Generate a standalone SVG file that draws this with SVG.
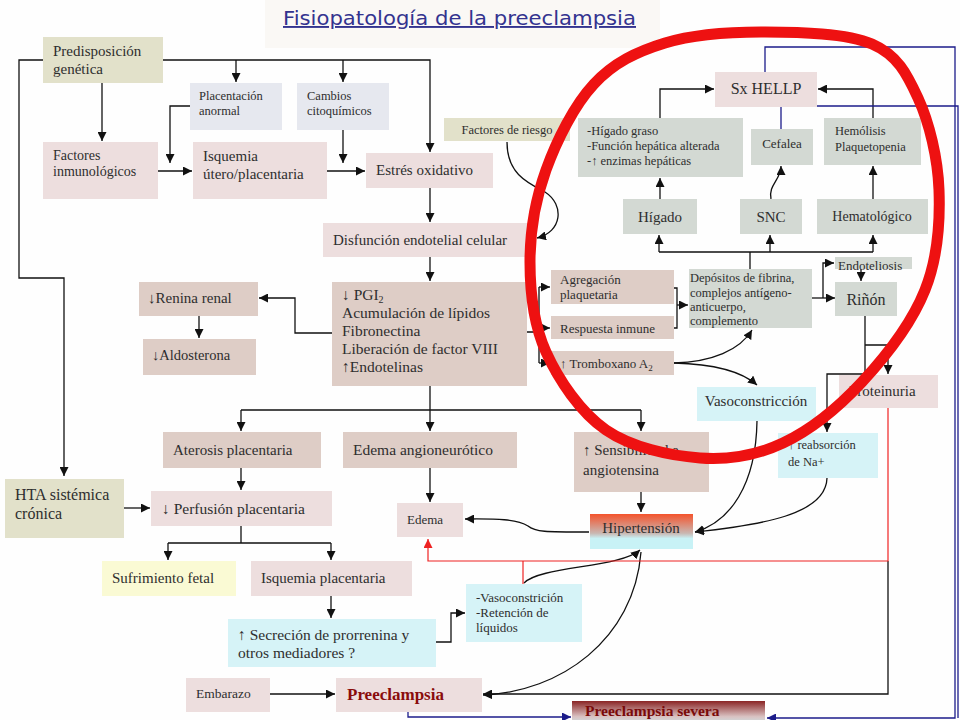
<svg xmlns="http://www.w3.org/2000/svg" width="960" height="720" viewBox="0 0 960 720">
<defs>
<style>
.t{font-family:"Liberation Serif","Times New Roman",serif;fill:#2e2e2e}
.pk{fill:#eddede}.tn{fill:#decdc6}.gg{fill:#d3d9d3}.ol{fill:#e2e1ca}.bl{fill:#e6e8ef}.cy{fill:#d6f3f7}.yl{fill:#fafad4}
.c{stroke:#111;stroke-width:1.3;fill:none}
.cr{stroke:#ee2222;stroke-width:1.2;fill:none}
.cb{stroke:#1c1c8a;stroke-width:1.3;fill:none}
.a{marker-end:url(#ah)}
</style>
<marker id="ah" viewBox="0 0 10 10" refX="10" refY="5" markerWidth="9" markerHeight="9" markerUnits="userSpaceOnUse" orient="auto"><path d="M0,0 L10,5 L0,10 z" fill="#111"/></marker>
<marker id="ahr" viewBox="0 0 10 10" refX="10" refY="5" markerWidth="9" markerHeight="9" markerUnits="userSpaceOnUse" orient="auto"><path d="M0,0 L10,5 L0,10 z" fill="#ee2222"/></marker>
<marker id="ahb" viewBox="0 0 10 10" refX="10" refY="5" markerWidth="9" markerHeight="9" markerUnits="userSpaceOnUse" orient="auto"><path d="M0,0 L10,5 L0,10 z" fill="#1c1c8a"/></marker>
<linearGradient id="ghip" x1="0" y1="0" x2="0" y2="1">
<stop offset="0" stop-color="#f4532c"/><stop offset="0.55" stop-color="#c9b7b2"/><stop offset="0.7" stop-color="#c8f2f6"/><stop offset="1" stop-color="#c8f2f6"/>
</linearGradient>
<linearGradient id="gsev" x1="0" y1="0" x2="0" y2="1">
<stop offset="0" stop-color="#8a2424"/><stop offset="0.6" stop-color="#d9c2c2"/><stop offset="1" stop-color="#c8f0f4"/>
</linearGradient>
</defs>
<rect width="960" height="720" fill="#fefefe"/>
<rect x="265" y="0" width="395" height="48" fill="#faf8f5"/>
<text x="283" y="25" font-family="'DejaVu Sans','Liberation Sans',sans-serif" font-size="19" fill="#33338f" textLength="353" lengthAdjust="spacingAndGlyphs" text-decoration="underline">Fisiopatología de la preeclampsia</text>

<g id="connectors">
<path class="c" d="M163,60 H430 V152" marker-end="url(#ah)"/>
<path class="c a" d="M236,60 V82"/>
<path class="c a" d="M343,60 V82"/>
<path class="c" d="M43,60 H19 V278 H64 V476" marker-end="url(#ah)"/>
<path class="c a" d="M102,83 V141"/>
<path class="c a" d="M158,171 H192"/>
<path class="c a" d="M190,106 H170 V163"/>
<path class="c a" d="M343,130 V163"/>
<path class="c a" d="M327,171 H365"/>
<path class="c a" d="M430,188 V222"/>
<path class="c a" d="M430,257 V281"/>
<path class="c a" d="M507,142 C507,172 525,182 545,192 C565,205 562,232 537,238"/>
<path class="c a" d="M332,333 H295 V298 H259"/>
<path class="c a" d="M199,316 V338"/>
<path class="c" d="M430,386 V410 M241,410 H641"/>
<path class="c a" d="M241,410 V431"/>
<path class="c a" d="M430,410 V431"/>
<path class="c a" d="M641,410 V431"/>
<path class="c" d="M527,332 H539 M539,287 V363"/>
<path class="c a" d="M539,287 H550"/>
<path class="c a" d="M539,328 H550"/>
<path class="c a" d="M539,363 H550"/>
<path class="c" d="M674,288 H677 V328 H674"/>
<path class="c a" d="M677,305 H688"/>
<path class="c a" d="M674,363 C712,362 740,350 752,330"/>
<path class="c a" d="M674,363 C712,364 740,370 757,385"/>
<path class="c" d="M750,269 V252 M659,252 H873"/>
<path class="c a" d="M659,252 V235"/>
<path class="c a" d="M770,252 V235"/>
<path class="c a" d="M873,252 V235"/>
<path class="c a" d="M660,118 V89 H714"/>
<path class="c a" d="M873,118 V89 H818"/>
<path class="c a" d="M660,199 V178"/>
<path class="c a" d="M771,199 C768,185 781,180 781,166"/>
<path class="c a" d="M873,199 V166"/>
<path class="c a" d="M812,298 H835"/>
<path class="c a" d="M823,298 V263 H834"/>
<path class="c a" d="M861,268 V281"/>
<path class="c" d="M865,316 V374 H827 V432" marker-end="url(#ah)"/>
<path class="c a" d="M865,345 H888 V374"/>
<path class="c a" d="M241,468 V490"/>
<path class="c a" d="M430,468 V502"/>
<path class="c a" d="M641,492 V512"/>
<path class="c a" d="M757,421 C756,485 730,522 695,532"/>
<path class="c a" d="M827,478 C826,515 760,525 695,532"/>
<path class="c a" d="M589,532 C545,532 535,532 528,526 C515,518 490,519 465,519"/>
<path class="c a" d="M124,508 H150"/>
<path class="c" d="M241,526 V543 M168,543 H331"/>
<path class="c a" d="M168,543 V560"/>
<path class="c a" d="M331,543 V560"/>
<path class="c a" d="M331,596 V618"/>
<path class="c a" d="M436,642 H451 V613 H465"/>
<path class="c a" d="M524,583 C540,566 620,568 640,550"/>
<path class="c a" d="M641,552 C634,640 560,692 483,695"/>
<path class="c a" d="M888,561 V694 H483"/>
<path class="c a" d="M270,694 H335"/>
<path class="cr" d="M888,408 V561 H428 V539" marker-end="url(#ahr)"/>
<path class="cr" d="M523,561 V584"/>
<path class="cb" d="M408,712 V717 H571" marker-end="url(#ahb)"/>
<path class="cb" d="M765,72 V47 H955 V718 H767" marker-end="url(#ahb)"/>
<path class="cb" d="M781,129 V106 H958 V718"/>
</g>

<g id="n-predisposicion"><rect class="ol" x="43" y="37" width="120" height="46"/><text class="t" font-size="15" x="53" y="56">Predisposición</text><text class="t" font-size="15" x="53" y="74">genética</text></g>
<g id="n-placentacion"><rect class="bl" x="190" y="83" width="92" height="47"/><text class="t" font-size="12.5" x="199" y="100">Placentación</text><text class="t" font-size="12.5" x="199" y="115">anormal</text></g>
<g id="n-cambios"><rect class="bl" x="297" y="83" width="92" height="47"/><text class="t" font-size="12.5" x="307" y="100">Cambios</text><text class="t" font-size="12.5" x="307" y="115">citoquímicos</text></g>
<g id="n-inmuno"><rect class="pk" x="43" y="142" width="115" height="57"/><text class="t" font-size="14" x="53" y="160">Factores</text><text class="t" font-size="14" x="53" y="176">inmunológicos</text></g>
<g id="n-isquemia-ut"><rect class="pk" x="193" y="142" width="134" height="57"/><text class="t" font-size="15" x="203" y="161">Isquemia</text><text class="t" font-size="15" x="203" y="179">útero/placentaria</text></g>
<g id="n-estres"><rect class="pk" x="366" y="153" width="127" height="35"/><text class="t" font-size="15" x="376" y="175">Estrés oxidativo</text></g>
<g id="n-riesgo"><rect class="ol" x="444" y="118" width="126" height="23"/><text class="t" font-size="12.5" x="507" y="134" text-anchor="middle">Factores de riesgo</text></g>
<g id="n-disfuncion"><rect class="pk" x="323" y="223" width="212" height="34"/><text class="t" font-size="15" x="333" y="245">Disfunción endotelial celular</text></g>
<g id="n-pgi2"><rect class="tn" x="332" y="282" width="195" height="104"/>
<text class="t" font-size="15.5" x="342" y="300">↓ PGI<tspan font-size="10" dy="3">2</tspan></text>
<text class="t" font-size="15.5" x="342" y="318">Acumulación de lípidos</text>
<text class="t" font-size="15.5" x="342" y="336">Fibronectina</text>
<text class="t" font-size="15.5" x="342" y="354">Liberación de factor VIII</text>
<text class="t" font-size="15.5" x="342" y="372">↑Endotelinas</text></g>
<g id="n-renina"><rect class="tn" x="139" y="282" width="119" height="34"/><text class="t" font-size="15" x="148" y="303">↓Renina renal</text></g>
<g id="n-aldosterona"><rect class="tn" x="143" y="339" width="113" height="36"/><text class="t" font-size="14.5" x="152" y="360">↓Aldosterona</text></g>
<g id="n-sxhellp"><rect class="pk" x="715" y="72" width="102" height="35"/><text class="t" font-size="16" x="766" y="94" text-anchor="middle">Sx HELLP</text></g>
<g id="n-higado-list"><rect class="gg" x="578" y="118" width="165" height="59"/><text class="t" font-size="12.5" x="587" y="135">-Hígado graso</text><text class="t" font-size="12.5" x="587" y="150">-Función hepática alterada</text><text class="t" font-size="12.5" x="587" y="165">-↑ enzimas hepáticas</text></g>
<g id="n-cefalea"><rect class="gg" x="751" y="129" width="62" height="36"/><text class="t" font-size="13" x="782" y="148" text-anchor="middle">Cefalea</text></g>
<g id="n-hemolisis"><rect class="gg" x="824" y="118" width="97" height="47"/><text class="t" font-size="12.5" x="835" y="135">Hemólisis</text><text class="t" font-size="12.5" x="835" y="151">Plaquetopenia</text></g>
<g id="n-higado"><rect class="gg" x="623" y="199" width="74" height="35"/><text class="t" font-size="15" x="660" y="222" text-anchor="middle">Hígado</text></g>
<g id="n-snc"><rect class="gg" x="740" y="199" width="62" height="35"/><text class="t" font-size="15" x="771" y="222" text-anchor="middle">SNC</text></g>
<g id="n-hemato"><rect class="gg" x="817" y="199" width="111" height="35"/><text class="t" font-size="14" x="872" y="221" text-anchor="middle">Hematológico</text></g>
<g id="n-agregacion"><rect class="tn" x="551" y="270" width="123" height="34"/><text class="t" font-size="13" x="560" y="284">Agregación</text><text class="t" font-size="13" x="560" y="299">plaquetaria</text></g>
<g id="n-respuesta"><rect class="tn" x="551" y="316" width="123" height="23"/><text class="t" font-size="13" x="560" y="333">Respuesta inmune</text></g>
<g id="n-tromboxano"><rect class="tn" x="551" y="351" width="123" height="24"/><text class="t" font-size="13" x="560" y="368">↑ Tromboxano A<tspan font-size="9" dy="3">2</tspan></text></g>
<g id="n-depositos"><rect class="gg" x="689" y="269" width="123" height="59"/><text class="t" font-size="12.5" x="690" y="282">Depósitos de fibrina,</text><text class="t" font-size="12.5" x="690" y="297">complejos antígeno-</text><text class="t" font-size="12.5" x="690" y="311">anticuerpo,</text><text class="t" font-size="12.5" x="690" y="325">complemento</text></g>
<g id="n-endoteliosis"><rect class="gg" x="835" y="257" width="77" height="12"/><text class="t" font-size="13" x="838" y="270">Endoteliosis</text></g>
<g id="n-rinon"><rect class="gg" x="835" y="282" width="62" height="34"/><text class="t" font-size="16" x="866" y="305" text-anchor="middle">Riñón</text></g>
<g id="n-proteinuria"><rect class="pk" x="839" y="375" width="99" height="33"/><text class="t" font-size="15" x="849" y="396">Proteinuria</text></g>
<g id="n-vasocons"><rect class="cy" x="697" y="387" width="119" height="34"/><text class="t" font-size="15" x="756" y="406" text-anchor="middle">Vasoconstricción</text></g>
<g id="n-reabsorcion"><rect class="cy" x="778" y="433" width="100" height="45"/><text class="t" font-size="12.5" x="788" y="449">↑ reabsorción</text><text class="t" font-size="12.5" x="788" y="466">de Na+</text></g>
<g id="n-aterosis"><rect class="tn" x="163" y="432" width="158" height="36"/><text class="t" font-size="15" x="173" y="455">Aterosis placentaria</text></g>
<g id="n-angioneurotico"><rect class="tn" x="343" y="432" width="174" height="36"/><text class="t" font-size="15.5" x="353" y="455">Edema angioneurótico</text></g>
<g id="n-sensibilidad"><rect class="tn" x="574" y="432" width="135" height="60"/><text class="t" font-size="15" x="583" y="455">↑ Sensibilidad a</text><text class="t" font-size="15" x="583" y="475">angiotensina</text></g>
<g id="n-hipertension"><rect fill="url(#ghip)" x="590" y="514" width="103" height="35"/><text class="t" font-size="15" x="641" y="533" text-anchor="middle">Hipertensión</text></g>
<g id="n-edema"><rect class="pk" x="397" y="503" width="66" height="34"/><text class="t" font-size="13" x="407" y="524">Edema</text></g>
<g id="n-hta"><rect class="ol" x="5" y="479" width="119" height="59"/><text class="t" font-size="16" x="15" y="500">HTA sistémica</text><text class="t" font-size="16" x="15" y="519">crónica</text></g>
<g id="n-perfusion"><rect class="pk" x="151" y="491" width="181" height="35"/><text class="t" font-size="15.5" x="162" y="514">↓ Perfusión placentaria</text></g>
<g id="n-sufrimiento"><rect class="yl" x="102" y="561" width="134" height="35"/><text class="t" font-size="15" x="112" y="583">Sufrimiento fetal</text></g>
<g id="n-isquemia-pl"><rect class="pk" x="251" y="561" width="161" height="35"/><text class="t" font-size="15" x="261" y="583">Isquemia placentaria</text></g>
<g id="n-secrecion"><rect class="cy" x="228" y="619" width="208" height="48"/><text class="t" font-size="15.5" x="238" y="640">↑ Secreción de prorrenina y</text><text class="t" font-size="15.5" x="238" y="658">otros mediadores ?</text></g>
<g id="n-vasoret"><rect class="cy" x="466" y="584" width="116" height="58"/><text class="t" font-size="13" x="476" y="602">-Vasoconstrición</text><text class="t" font-size="13" x="476" y="617">-Retención de</text><text class="t" font-size="13" x="476" y="632">líquidos</text></g>
<g id="n-embarazo"><rect class="pk" x="186" y="678" width="84" height="34"/><text class="t" font-size="13.5" x="196" y="698">Embarazo</text></g>
<g id="n-preeclampsia"><rect class="pk" x="336" y="678" width="146" height="34"/><text font-family="'Liberation Serif',serif" font-weight="bold" font-size="17" fill="#8a0c0c" x="347" y="700">Preeclampsia</text></g>
<g id="n-severa"><rect fill="url(#gsev)" x="572" y="701" width="193" height="26"/><text font-family="'Liberation Serif',serif" font-weight="bold" font-size="15.5" fill="#7a0a0a" x="585" y="716">Preeclampsia severa</text></g>

<path fill="none" stroke="#ee1111" stroke-width="11" d="M765,32 C799.5,32.2 846.5,33 872,44 C897.5,55 906.8,73.7 918,98 C929.2,122.3 937.8,158 939,190 C940.2,222 937.8,258 925,290 C912.2,322 885.7,356.5 862,382 C838.3,407.5 810,430.3 783,443 C756,455.7 729.5,460.2 700,458 C670.5,455.8 631.7,447.7 606,430 C580.3,412.3 558.7,380 546,352 C533.3,324 530,292.3 530,262 C530,231.7 535.3,199.7 546,170 C556.7,140.3 574.2,105.2 594,84 C613.8,62.8 636.5,51.7 665,43 C693.5,34.3 730.5,31.8 765,32 Z"/>
</svg>
